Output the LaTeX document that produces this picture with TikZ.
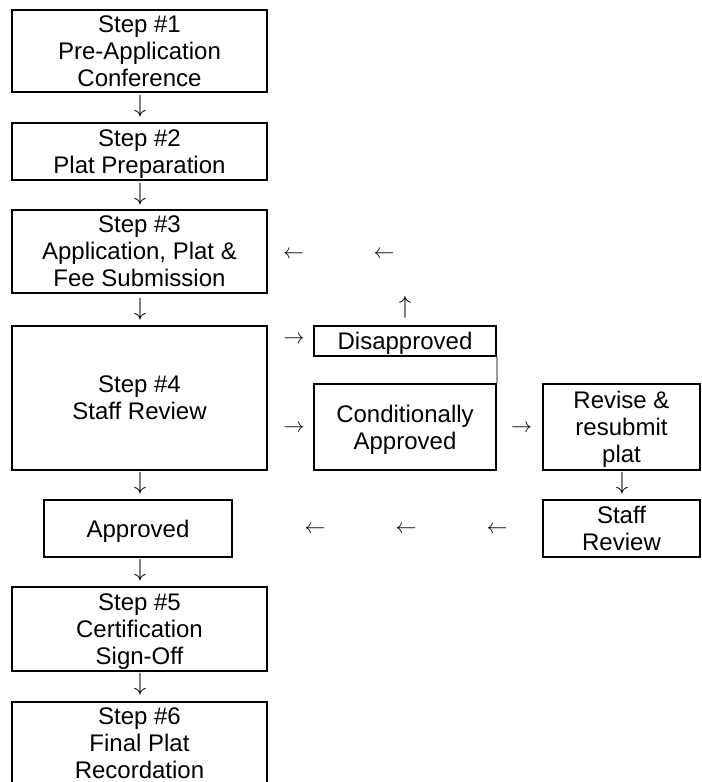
\documentclass[tikz,border=0pt]{standalone}
\usepackage{graphicx}
\usepackage{fontspec}
\setmainfont{Liberation Sans}
\newcommand\nodep[1]{\raisebox{0pt}[\height][0pt]{#1}}
\newcommand\hgl[1]{\scalebox{2.1}{$#1$}}
\newcommand\vgl[1]{\scalebox{2.5}{$#1$}}
\begin{document}
\begin{tikzpicture}[x=1bp,y=-1bp,
  box/.style={draw=black, line width=2bp, inner sep=0pt, align=center,
    font=\fontsize{24bp}{27bp}\selectfont},
  glyph/.style={inner sep=0pt},
  link/.style={draw=black!38, line width=2bp}]
\useasboundingbox (0,0) rectangle (702,782);
% left column
\node[box, minimum width=255bp, minimum height=82bp] (s1) at (139.5,51) {Step \#1\\Pre-Application\\\nodep{Conference}};
\node[box, minimum width=255bp, minimum height=57bp] (s2) at (139.5,151.5) {Step \#2\\\nodep{Plat Preparation}};
\node[box, minimum width=255bp, minimum height=83bp] (s3) at (139.5,251.5) {Step \#3\\Application, Plat \&\\\nodep{Fee Submission}};
\node[box, minimum width=255bp, minimum height=144bp] (s4) at (139.5,398) {Step \#4\\\nodep{Staff Review}};
\node[box, minimum width=188bp, minimum height=57bp] (ap) at (138,528.5) {\nodep{Approved}};
\node[box, minimum width=255bp, minimum height=84bp] (s5) at (139.5,629) {Step \#5\\Certification\\\nodep{Sign-Off}};
\node[box, minimum width=255bp, minimum height=83bp] (s6) at (139.5,743) {Step \#6\\Final Plat\\\nodep{Recordation}};
% middle column
\node[box, minimum width=182bp, minimum height=30bp] (dis) at (405,341) {\nodep{Disapproved}};
\node[box, minimum width=182bp, minimum height=86bp] (con) at (405,427) {Conditionally\\\nodep{Approved}};
% right column
\node[box, minimum width=157bp, minimum height=86bp] (rev) at (621.5,427) {Revise \&\\resubmit\\\nodep{plat}};
\node[box, minimum width=157bp, minimum height=57bp] (sr) at (621.5,528.5) {Staff\\\nodep{Review}};
% thin gray link
\draw[link] (dis.south east) -- (con.north east);
% arrow glyphs
\node[glyph] (d1) at (140,106) {\vgl{\downarrow}};
\node[glyph] (d2) at (140,194) {\vgl{\downarrow}};
\node[glyph] (d3) at (140,309) {\vgl{\downarrow}};
\node[glyph] (d4) at (140,483) {\vgl{\downarrow}};
\node[glyph] (d5) at (140,570) {\vgl{\downarrow}};
\node[glyph] (d6) at (140,684) {\vgl{\downarrow}};
\node[glyph] (d7) at (622,483) {\vgl{\downarrow}};
\node[glyph] (u1) at (405,307) {\vgl{\uparrow}};
\node[glyph] (l1) at (293.5,255) {\hgl{\leftarrow}};
\node[glyph] (l2) at (384,255) {\hgl{\leftarrow}};
\node[glyph] (r1) at (294,340) {\hgl{\rightarrow}};
\node[glyph] (r2) at (294,429) {\hgl{\rightarrow}};
\node[glyph] (r3) at (521.5,429) {\hgl{\rightarrow}};
\node[glyph] (l3) at (315,530) {\hgl{\leftarrow}};
\node[glyph] (l4) at (406,530) {\hgl{\leftarrow}};
\node[glyph] (l5) at (497,530) {\hgl{\leftarrow}};
\end{tikzpicture}
\end{document}
